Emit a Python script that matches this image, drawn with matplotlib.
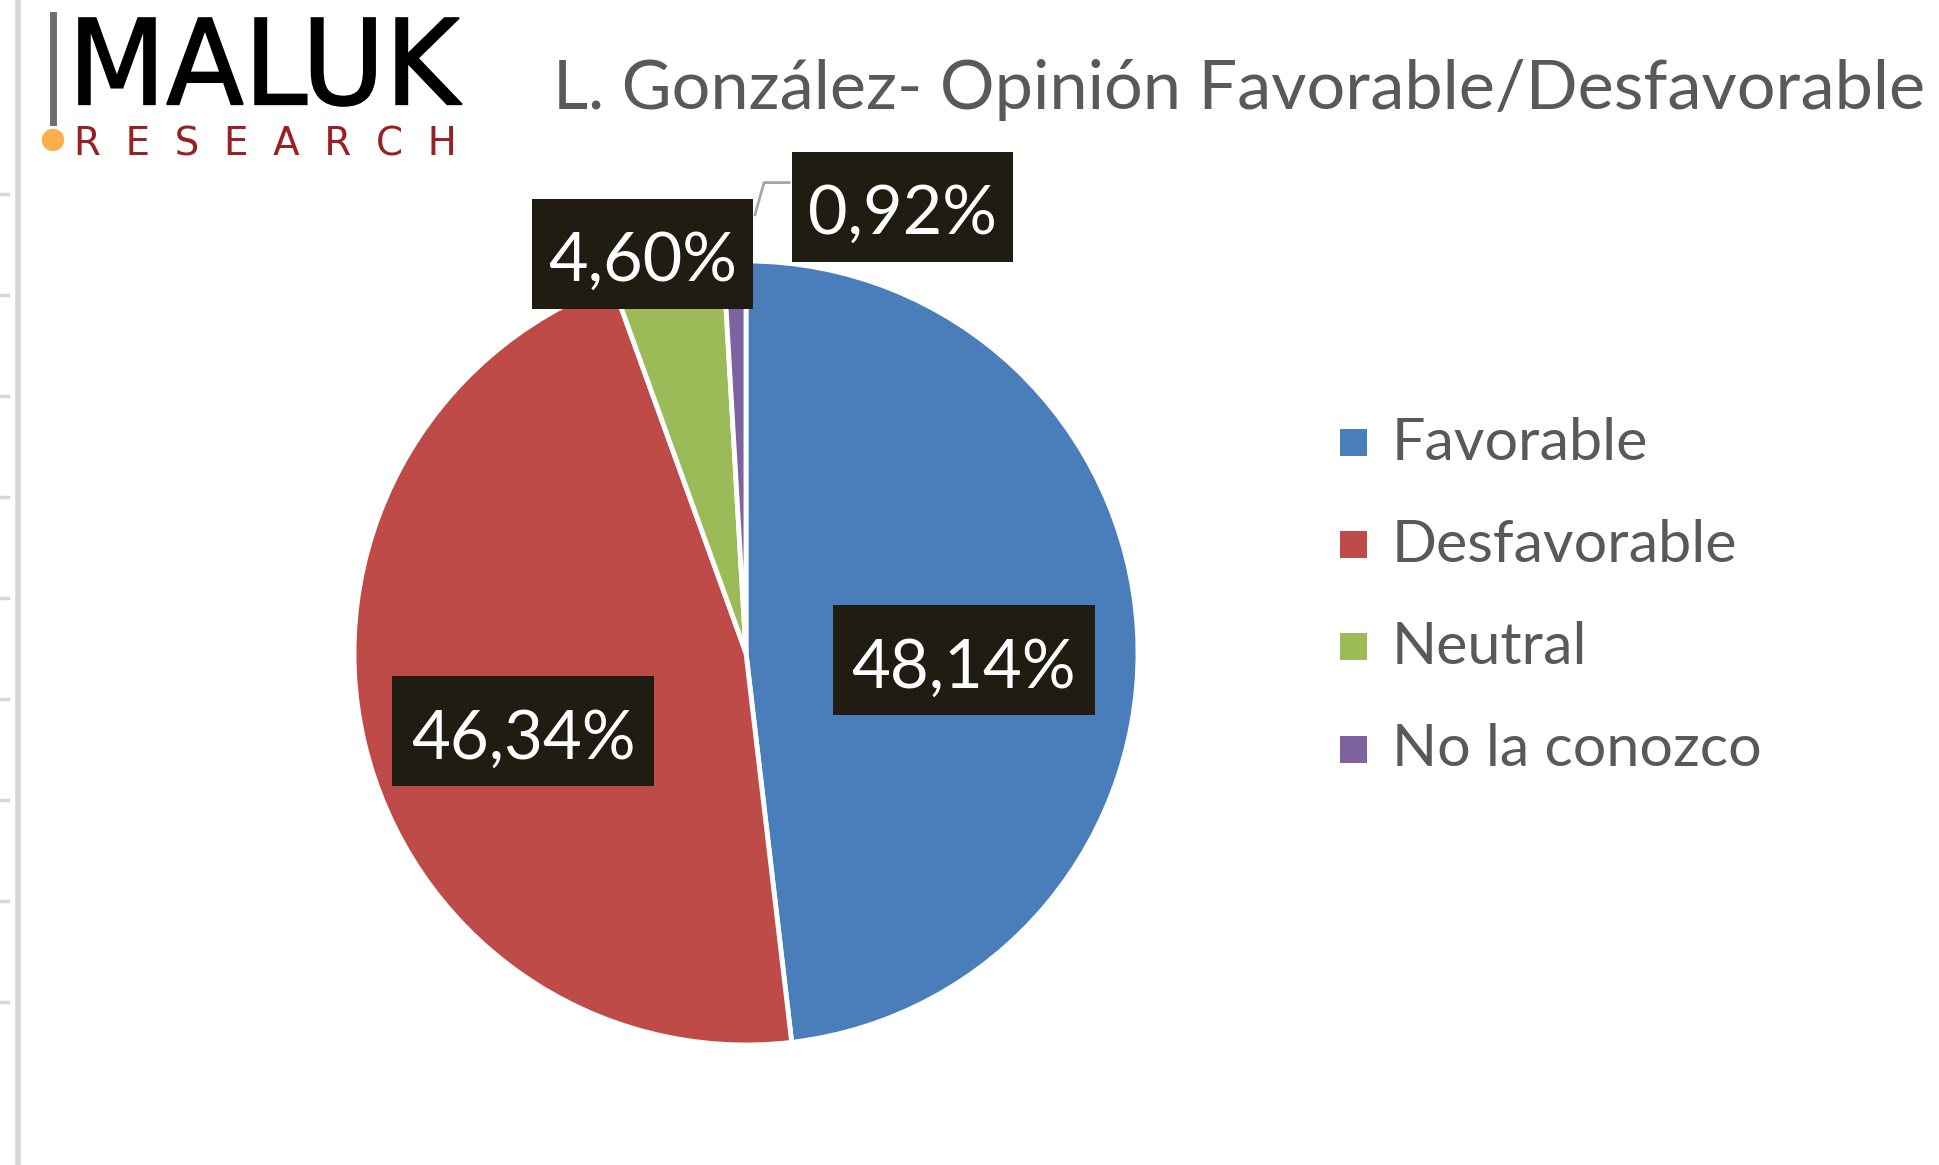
import matplotlib
matplotlib.use('Agg')
import matplotlib.pyplot as plt
from matplotlib.patches import Circle, Rectangle, PathPatch
from matplotlib.lines import Line2D
from matplotlib.textpath import TextPath
from matplotlib.font_manager import FontProperties
from matplotlib.transforms import Affine2D, IdentityTransform

categories = ['Favorable', 'Desfavorable', 'Neutral', 'No la conozco']
values = [48.14, 46.34, 4.60, 0.92]
value_labels = ['48,14%', '46,34%', '4,60%', '0,92%']
colors = ['#4A7EBB', '#BE4B48', '#9BBB59', '#7F63A1']
title = 'L. González- Opinión Favorable/Desfavorable'

W, H = 1940, 1165
fig = plt.figure(figsize=(W / 100, H / 100), dpi=100)
fig.patch.set_facecolor('white')


def fx(x):
    return x / W


def fy(y):
    return 1 - y / H


renderer = fig.canvas.get_renderer()


def fit(t, target_w):
    w = t.get_window_extent(renderer).width
    t.set_fontsize(t.get_fontsize() * target_w / w)


# --- left decoration (spreadsheet edge) ---
fig.add_artist(Line2D([fx(18), fx(18)], [0, 1], color='#d6d6d6', lw=4))
for k in range(9):
    yy = 194 + 101 * k
    fig.add_artist(Line2D([0, fx(8)], [fy(yy), fy(yy)], color='#d6d6d6', lw=2.5))

# --- logo ---
fig.add_artist(Line2D([fx(53), fx(53)], [fy(15), fy(122)], color='#6e6e6e', lw=5))
fig.add_artist(Circle((53, H - 140), 10.5, transform=IdentityTransform(),
                      color='#F9B04A', zorder=5))
tp = TextPath((0, 0), 'MALUK', size=100, prop=FontProperties(family='DejaVu Sans'))
ext = tp.get_extents()
x0, x1, y0, y1 = 79, 462, 18, 106  # logo box in pixels (top-left origin)
sx = (x1 - x0) / ext.width
sy = (y1 - y0) / ext.height
tr = Affine2D().translate(-ext.x0, -ext.y0).scale(sx, sy).translate(x0, H - y1)
fig.add_artist(PathPatch(tr.transform_path(tp), transform=IdentityTransform(),
                         fc='black', ec='black', lw=1.2))
t_res = fig.text(fx(74), fy(155), 'R  E  S  E  A  R  C  H', fontsize=24,
                 family='DejaVu Sans', color='#9A1F23', ha='left', va='baseline')
fit(t_res, 384)

# --- title ---
t_title = fig.text(fx(553), fy(109), title, fontsize=50, family='Lato',
                   color='#595959', ha='left', va='baseline')
fit(t_title, 1371)

# --- pie ---
cx, cy, R = 746, 653, 392
ax = fig.add_axes([fx(cx - R), fy(cy + R), 2 * R / W, 2 * R / H])
wedges, _ = ax.pie(values, colors=colors, startangle=90, counterclock=False,
                   radius=1, wedgeprops=dict(edgecolor='white', linewidth=3.5))
ax.set_xlim(-1, 1)
ax.set_ylim(-1, 1)
ax.set_aspect('equal')
ax.axis('off')

# label positions (box centres, in pie radius units)
label_pos = [(0.556, -0.019), (-0.568, -0.20), (-0.264, 1.018), (0.399, 1.138)]
for lab, (lx, ly) in zip(value_labels, label_pos):
    long = len(lab) == 6
    bw = (262 if long else 221) / R
    bh = 110 / R
    ax.add_patch(Rectangle((lx - bw / 2, ly - bh / 2), bw, bh, fc='#201C11',
                           ec='none', zorder=9, clip_on=False))
    t = ax.text(lx, ly - 27 / R, lab, ha='center', va='baseline', color='white',
                fontsize=40, family='Lato', zorder=10, clip_on=False)
    fit(t, 225 if long else 189)

# leader line for the smallest slice
ax.add_line(Line2D([0.110, 0.046, 0.023], [1.2, 1.2, 1.118], color='#a6a6a6',
                   lw=2, zorder=5, clip_on=False))

# --- legend ---
leg_y = [443, 545, 647, 750]
for cat, col, yy in zip(categories, colors, leg_y):
    fig.add_artist(Rectangle((fx(1340), fy(yy + 13)), 27 / W, 27 / H,
                             transform=fig.transFigure, fc=col, ec='none'))
    t = fig.text(fx(1392), fy(yy), cat, fontsize=34, family='Lato',
                 color='#595959', ha='left', va='center')
    if cat == 'Favorable':
        fit(t, 257)
        legfs = t.get_fontsize()
    else:
        t.set_fontsize(legfs)

fig.savefig('out.png', dpi=100, facecolor='white')
